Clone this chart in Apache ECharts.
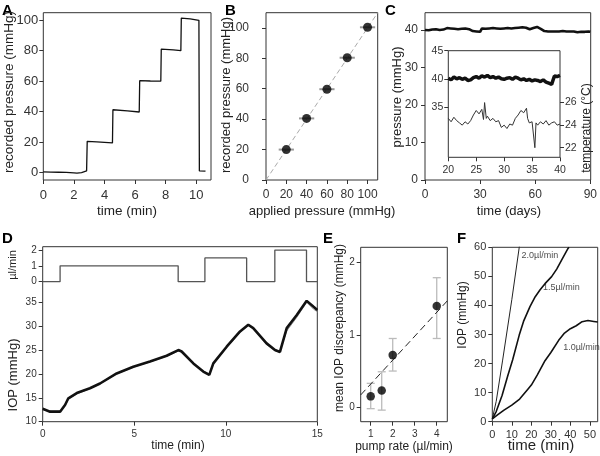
<!DOCTYPE html>
<html><head><meta charset="utf-8">
<script src="https://cdn.jsdelivr.net/npm/echarts@6/dist/echarts.min.js"></script>
<style>html,body{margin:0;padding:0;background:#fff}#c{width:600px;height:456px}</style>
</head><body><div id="c"></div>
<script>
// ---------- DATA ----------
// Panel A: recorded pressure vs time
const aTime  = [0, 0.5, 1.0, 1.5, 2.0, 2.2, 2.5, 2.83, 2.87, 3.5, 4.0, 4.52, 4.55, 5.5, 6.27, 6.3, 7.0, 7.68, 7.71, 8.5, 8.99, 9.02, 9.6, 10.17, 10.2, 10.6];
const aPress = [0.3, 0.2, 0.1, 0.0, -0.3, -0.5, -0.1, 1.0, 20.4, 20.1, 19.8, 19.4, 41.2, 40.5, 39.7, 60.3, 60.1, 60.0, 81.1, 80.6, 80.0, 101.5, 101.0, 100.0, 1.0, 0.8];
// Panel B
const bApplied  = [20, 40, 60, 80, 100];
const bRecorded = [20, 40.5, 59.7, 80.4, 100.4];
const bErrHalf  = [7.5, 7.5, 7.5, 7.5, 7.5];
const bDiagX = [0, 110];
const bDiagY = [0, 110];
// Panel C main (days 0..90)
const cDay = [0,1,2,3,4,5,6,7,8,9,10,11,12,13,14,15,16,17,18,19,20,21,22,23,24,25,26,27,28,29,30,31,32,33,34,35,36,37,38,39,40,41,42,43,44,45,46,47,48,49,50,51,52,53,54,55,56,57,58,59,60,61,62,63,64,65,66,67,68,69,70,71,72,73,74,75,76,77,78,79,80,81,82,83,84,85,86,87,88,89,90];
const cPress = [40.0,40.2,39.9,40.3,40.1,39.8,40.2,40.4,40.0,40.3,40.1,
  40.3,40.5,40.2,40.4,40.1,40.3,40.5,40.2,40.4,40.3,
  40.1,40.4,40.0,40.2,39.9,39.7,40.1,39.6,39.8,39.5,
  40.4,40.6,40.3,40.5,40.4,40.2,40.5,40.3,40.4,40.2,
  40.3,40.5,40.4,40.6,40.5,40.3,40.4,40.6,40.5,40.4,
  40.6,40.5,40.7,40.4,40.6,40.3,40.2,40.4,40.5,40.7,
  40.8,40.6,40.3,40.0,39.7,39.5,39.6,39.4,39.6,39.5,
  39.6,39.4,39.6,39.5,39.7,39.5,39.6,39.4,39.6,39.5,
  39.6,39.5,39.4,39.6,39.5,39.7,39.5,39.4,39.6,39.5];
// Panel C inset
const ciDay = [20,20.5,21,21.5,22,22.5,23,23.5,24,24.5,25,25.5,26,26.5,27,27.5,28,28.5,29,29.5,30,30.5,31,31.5,32,32.5,33,33.5,34,34.5,35,35.5,36,36.5,37,37.5,38,38.5,39,39.5,40];
const ciPress = [40.1,39.8,40.3,40.0,40.2,39.9,40.1,39.7,39.8,40.2,
  40.4,40.1,40.5,40.3,40.6,40.2,40.4,40.1,40.3,40.0,
  39.9,40.1,40.2,39.9,40.3,40.1,39.8,40.0,39.7,39.9,
  39.6,39.8,39.7,39.5,39.8,39.4,39.2,39.0,40.5,40.4,40.6];
const ciTempDay = [20,20.5,21,21.5,22,22.5,23,23.5,24,24.5,25,25.5,26,26.3,26.5,26.8,27,27.5,28,28.5,29,29.5,30,30.5,31,31.5,32,32.5,33,33.5,34,34.2,34.5,35,35.3,35.5,35.7,36,36.5,37,37.5,38,38.5,39,39.5,40];
const ciTemp = [24.6,24.3,24.7,24.4,24.2,24.0,24.3,24.1,24.4,24.9,25.3,25.0,25.4,24.5,26.0,24.6,24.8,24.4,24.6,24.3,24.4,23.8,24.0,23.7,24.1,24.0,24.6,24.9,25.3,25.1,25.5,24.6,24.2,24.3,24.2,22.0,24.2,24.0,24.3,24.1,24.4,24.0,24.2,24.3,24.0,24.1];
// Panel D
const dPumpT = [0, 0.95, 7.4, 8.86, 11.14, 12.68, 14.41, 15];
const dPumpR = [0, 1, 0, 1.5, 0, 2, 0, 0];
const dTime = [0, 0.4, 0.95, 1.22, 1.4, 1.86, 2.58, 3.13, 4.04, 4.95, 5.86, 6.77, 7.41, 7.59, 8.23, 8.77, 9.1, 9.32, 10.05, 10.78, 11.23, 11.5, 12.23, 12.69, 12.96, 13.33, 13.87, 14.42, 14.78, 15];
const dIOP  = [12.7, 12.1, 12.1, 13.5, 14.9, 16.0, 17.0, 18.0, 20.1, 21.5, 22.6, 23.8, 25.0, 24.7, 22.2, 20.5, 19.8, 22.2, 25.7, 28.9, 30.3, 29.6, 26.4, 25.0, 24.6, 29.6, 32.3, 35.3, 34.1, 33.4];
const dIOP2 = [12.5, 12.2, 12.2, 13.3, 14.7, 15.8, 16.9, 17.9, 20.0, 21.4, 22.5, 23.7, 24.8, 24.6, 22.3, 20.6, 20.0, 22.0, 25.5, 28.7, 30.1, 29.5, 26.2, 24.8, 24.8, 29.0, 31.8, 35.0, 33.6, 33.0];
// Panel E
const eRate = [1, 1.5, 2, 4];
const eDisc = [0.15, 0.23, 0.72, 1.4];
const eLo   = [-0.02, -0.04, 0.5, 0.95];
const eHi   = [0.33, 0.49, 0.95, 1.79];
const eFitX = [0.545, 4.48];
const eFitY = [0.17, 1.47];
// Panel F
const f10T = [0, 3, 6, 10, 14, 18, 20, 23, 27, 30, 34, 37, 40, 43, 46, 49, 52, 54];
const f10P = [1, 2.5, 4, 5.7, 7.8, 11, 12.6, 16, 21, 23.8, 28, 30.5, 32, 33, 34.4, 34.8, 34.5, 34.3];
const f15T = [0, 2, 5, 8, 10.4, 13.8, 16, 19.3, 22, 24.4, 27, 30.4, 33, 35.5, 38.8, 39.3];
const f15P = [1, 3.5, 9, 16, 21.2, 29.8, 34.5, 39.6, 43, 45.3, 47.5, 49.9, 52.5, 55.6, 59.6, 60];
const f20T = [0, 2, 5.3, 10, 13.8, 14.2];
const f20P = [1, 7, 21.2, 42, 60, 62];
const fLabelText = ['2.0\u00b5l/min', '1.5\u00b5l/min', '1.0\u00b5l/min'];
const fLabelX = [15, 26, 36.3];
const fLabelY = [57.3, 46.1, 25.6];

// ---------- CHART ----------
const FONT = '"Liberation Sans", Arial, sans-serif';
const zip = (xs, ys) => xs.map((x, i) => [x, ys[i]]);
function grid(l, t, w, h, show) {
  return {left: l, top: t, width: w, height: h, show: show !== false, borderColor: '#333', borderWidth: 1, backgroundColor: 'rgba(0,0,0,0)'};
}
function axis(gi, min, max, ticks, fs, margin, extra) {
  return Object.assign({
    gridIndex: gi, type: 'value', min: min, max: max,
    axisLine: {show: false, onZero: false}, splitLine: {show: false},
    axisTick: {show: true, length: 4, customValues: ticks, lineStyle: {color: '#333', width: 1}},
    axisLabel: {show: true, customValues: ticks, fontSize: fs, fontFamily: FONT, color: '#333', margin: margin}
  }, extra || {});
}
function errSeries(xi, yi, data, cap, color, width) {
  return {
    type: 'custom', xAxisIndex: xi, yAxisIndex: yi, data: data, encode: {x: [0, 2], y: [1, 3]}, z: 2,
    renderItem: function (params, api) {
      const p1 = api.coord([api.value(0), api.value(1)]);
      const p2 = api.coord([api.value(2), api.value(3)]);
      const st = {stroke: color, lineWidth: width};
      const ch = [{type: 'line', shape: {x1: p1[0], y1: p1[1], x2: p2[0], y2: p2[1]}, style: st}];
      if (cap) {
        ch.push({type: 'line', shape: {x1: p1[0] - cap, y1: p1[1], x2: p1[0] + cap, y2: p1[1]}, style: st});
        ch.push({type: 'line', shape: {x1: p2[0] - cap, y1: p2[1], x2: p2[0] + cap, y2: p2[1]}, style: st});
      }
      return {type: 'group', children: ch};
    }
  };
}
function txt(x, y, s, size, opts) {
  opts = opts || {};
  return {type: 'text', x: x, y: y, rotation: opts.rot ? Math.PI / 2 : 0, z: 10,
    style: {text: s, fontSize: size, fontFamily: FONT, fontWeight: opts.bold ? 'bold' : 'normal',
      fill: opts.color || '#222', align: opts.align || 'center', verticalAlign: opts.va || 'middle'}};
}

const bErrData = bApplied.map((x, i) => [x - bErrHalf[i], bRecorded[i], x + bErrHalf[i], bRecorded[i]]);
const eErrData = eRate.map((x, i) => [x, eLo[i], x, eHi[i]]);

const option = {
  animation: false,
  backgroundColor: '#fff',
  grid: [
    grid(43.3, 12.7, 167.7, 167.3),     // 0 A
    grid(266, 12.7, 111.7, 167.3),      // 1 B
    grid(425, 12.7, 167.7, 167.3),      // 2 C
    grid(448.3, 50.7, 111.7, 106.6),    // 3 C inset
    grid(42.7, 246.7, 274.6, 175),      // 4 D IOP (frame)
    grid(42.7, 246.7, 274.6, 35, false),// 5 D pump
    grid(360.7, 247.3, 86.6, 174.4),    // 6 E
    grid(492.3, 247.3, 105.4, 174.4)    // 7 F
  ],
  xAxis: [
    axis(0, 0, 10.96, [0, 2, 4, 6, 8, 10], 13, 9),
    axis(1, 0, 110, [0, 20, 40, 60, 80, 100], 12, 9),
    axis(2, 0, 90.2, [0, 30, 60, 90], 12, 9),
    axis(3, 20, 40, [20, 25, 30, 35, 40], 10.5, 7),
    axis(4, 0, 15, [0, 5, 10, 15], 10, 8),
    axis(5, 0, 15, [], 10, 8, {axisTick: {show: false}, axisLabel: {show: false}}),
    axis(6, 0.545, 4.48, [1, 2, 3, 4], 10, 8),
    axis(7, 0, 54, [0, 10, 20, 30, 40, 50], 11, 8)
  ],
  yAxis: [
    axis(0, -5, 105, [0, 20, 40, 60, 80, 100], 13, 5),
    axis(1, 0, 110, [0, 20, 40, 60, 80, 100], 12, 17),
    axis(2, 0, 44.6, [0, 10, 20, 30, 40], 12, 7),
    axis(3, 26, 45, [35, 40, 45], 10.5, 5),
    axis(3, 21.15, 30.6, [22, 24, 26], 10.5, 5, {position: 'right'}),
    axis(4, 10, 46.64, [10, 15, 20, 25, 30, 35], 10, 6),
    axis(5, 0, 2.21, [0, 1, 2], 10, 6),
    axis(6, -0.2, 2.21, [0, 1, 2], 10, 6),
    axis(7, 0, 60, [0, 10, 20, 30, 40, 50, 60], 11, 6)
  ],
  graphic: [
    txt(2, 3, 'A', 15, {bold: true, align: 'left', va: 'top', color: '#000'}),
    txt(225, 3, 'B', 15, {bold: true, align: 'left', va: 'top', color: '#000'}),
    txt(385, 3, 'C', 15, {bold: true, align: 'left', va: 'top', color: '#000'}),
    txt(2, 231, 'D', 15, {bold: true, align: 'left', va: 'top', color: '#000'}),
    txt(323, 231, 'E', 15, {bold: true, align: 'left', va: 'top', color: '#000'}),
    txt(457, 231, 'F', 15, {bold: true, align: 'left', va: 'top', color: '#000'}),
    txt(9, 92, 'recorded pressure (mmHg)', 13.5, {rot: true}),
    txt(127, 211, 'time (min)', 13.5),
    txt(226, 95, 'recorded pressure (mmHg)', 13, {rot: true}),
    txt(322, 211, 'applied pressure (mmHg)', 13),
    txt(397, 97, 'pressure (mmHg)', 13, {rot: true}),
    txt(509, 211, 'time (days)', 13),
    txt(587, 128, 'temperature (\u00b0C)', 12, {rot: true}),
    txt(13, 265, '\u00b5l/min', 11, {rot: true}),
    txt(13, 375, 'IOP (mmHg)', 13, {rot: true}),
    txt(178, 446, 'time (min)', 12),
    txt(340, 328, 'mean IOP discrepancy (mmHg)', 12, {rot: true}),
    txt(404, 447, 'pump rate (\u00b5l/min)', 12),
    txt(463, 315, 'IOP (mmHg)', 12, {rot: true}),
    txt(541, 446, 'time (min)', 15)
  ],
  series: [
    // A
    {type: 'line', xAxisIndex: 0, yAxisIndex: 0, data: zip(aTime, aPress), symbol: 'none', lineStyle: {color: '#111', width: 1.3}},
    // B
    {type: 'line', xAxisIndex: 1, yAxisIndex: 1, data: zip(bDiagX, bDiagY), symbol: 'none', lineStyle: {color: '#aaa', width: 1, type: [5, 3]}},
    errSeries(1, 1, bErrData, 0, '#999', 2),
    {type: 'scatter', xAxisIndex: 1, yAxisIndex: 1, data: zip(bApplied, bRecorded), symbolSize: 9, itemStyle: {color: '#000'}, z: 3},
    // C
    {type: 'line', xAxisIndex: 2, yAxisIndex: 2, data: zip(cDay, cPress), symbol: 'none', lineStyle: {color: '#111', width: 2.6}},
    {type: 'line', xAxisIndex: 3, yAxisIndex: 3, data: zip(ciDay, ciPress), symbol: 'none', lineStyle: {color: '#111', width: 3.5}},
    {type: 'line', xAxisIndex: 3, yAxisIndex: 4, data: zip(ciTempDay, ciTemp), symbol: 'none', lineStyle: {color: '#333', width: 1}},
    // D
    {type: 'line', xAxisIndex: 5, yAxisIndex: 6, data: zip(dPumpT, dPumpR), step: 'end', symbol: 'none', clip: false, lineStyle: {color: '#555', width: 1.3}},
    {type: 'line', xAxisIndex: 4, yAxisIndex: 5, data: zip(dTime, dIOP2), symbol: 'none', lineStyle: {color: '#999', width: 1}},
    {type: 'line', xAxisIndex: 4, yAxisIndex: 5, data: zip(dTime, dIOP), symbol: 'none', lineStyle: {color: '#111', width: 2.6}},
    // E
    {type: 'line', xAxisIndex: 6, yAxisIndex: 7, data: zip(eFitX, eFitY), symbol: 'none', lineStyle: {color: '#222', width: 1}},
    errSeries(6, 7, eErrData, 4, '#bbb', 1.3),
    {type: 'scatter', xAxisIndex: 6, yAxisIndex: 7, data: zip(eRate, eDisc), symbolSize: 8.5, itemStyle: {color: '#000'}, z: 3},
    // F
    {type: 'line', xAxisIndex: 7, yAxisIndex: 8, data: zip(f20T, f20P), symbol: 'none', lineStyle: {color: '#222', width: 1}},
    {type: 'line', xAxisIndex: 7, yAxisIndex: 8, data: zip(f15T, f15P), symbol: 'none', lineStyle: {color: '#111', width: 1.6}},
    {type: 'line', xAxisIndex: 7, yAxisIndex: 8, data: zip(f10T, f10P), symbol: 'none', lineStyle: {color: '#111', width: 1.6}},
    {type: 'scatter', xAxisIndex: 7, yAxisIndex: 8, symbolSize: 0,
      data: fLabelText.map((t, i) => [fLabelX[i], fLabelY[i], t]),
      label: {show: true, position: 'right', distance: 0, formatter: p => p.data[2], fontSize: 9, fontFamily: FONT, color: '#222'}}
  ]
};
option.series[10].lineStyle.type = [7, 4];
const chart = echarts.init(document.getElementById('c'), null, {renderer: 'canvas'});
chart.setOption(option);
</script></body></html>
